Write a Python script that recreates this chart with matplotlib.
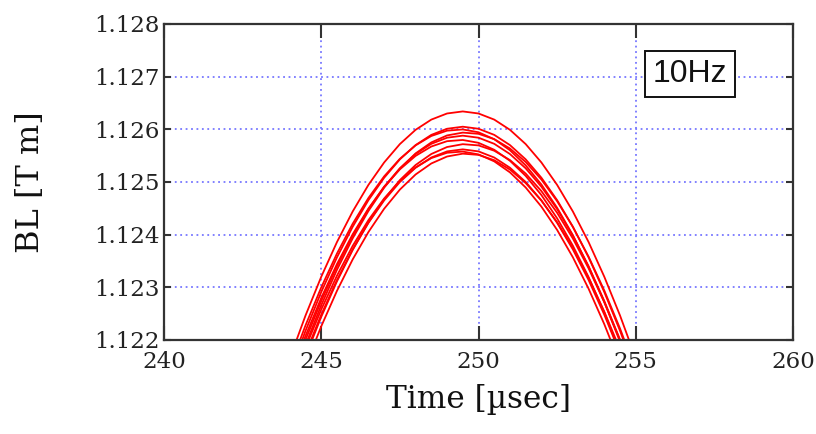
import matplotlib
matplotlib.use("Agg")
import matplotlib.pyplot as plt

time_us = [244.0, 244.5, 245.0, 245.5, 246.0, 246.5, 247.0, 247.5, 248.0, 248.5,
           249.0, 249.5, 250.0, 250.5, 251.0, 251.5, 252.0, 252.5, 253.0, 253.5,
           254.0, 254.5, 255.0]

bl_1 = [1.121651, 1.122465, 1.123201, 1.123860, 1.124441, 1.124945, 1.125371, 1.125720,
        1.125991, 1.126185, 1.126301, 1.126340, 1.126301, 1.126185, 1.125991, 1.125720,
        1.125371, 1.124945, 1.124441, 1.123860, 1.123201, 1.122465, 1.121651]
bl_2 = [1.121361, 1.122175, 1.122911, 1.123570, 1.124151, 1.124655, 1.125081, 1.125430,
        1.125701, 1.125895, 1.126011, 1.126050, 1.126011, 1.125895, 1.125701, 1.125430,
        1.125081, 1.124655, 1.124151, 1.123570, 1.122911, 1.122175, 1.121361]
bl_3 = [1.121480, 1.122278, 1.122999, 1.123642, 1.124208, 1.124696, 1.125107, 1.125440,
        1.125696, 1.125874, 1.125975, 1.125998, 1.125944, 1.125812, 1.125603, 1.125316,
        1.124952, 1.124510, 1.123991, 1.123394, 1.122720, 1.121968, 1.121139]
bl_4 = [1.121079, 1.121908, 1.122660, 1.123334, 1.123931, 1.124450, 1.124892, 1.125256,
        1.125543, 1.125752, 1.125884, 1.125938, 1.125915, 1.125814, 1.125636, 1.125380,
        1.125047, 1.124636, 1.124148, 1.123582, 1.122939, 1.122218, 1.121420]
bl_5 = [1.121191, 1.122005, 1.122741, 1.123400, 1.123981, 1.124485, 1.124911, 1.125260,
        1.125531, 1.125725, 1.125841, 1.125880, 1.125841, 1.125725, 1.125531, 1.125260,
        1.124911, 1.124485, 1.123981, 1.123400, 1.122741, 1.122005, 1.121191]
bl_6 = [1.121280, 1.122078, 1.122799, 1.123442, 1.124008, 1.124496, 1.124907, 1.125240,
        1.125496, 1.125674, 1.125775, 1.125798, 1.125744, 1.125612, 1.125403, 1.125116,
        1.124752, 1.124310, 1.123791, 1.123194, 1.122520, 1.121768, 1.120939]
bl_7 = [1.120859, 1.121688, 1.122440, 1.123114, 1.123711, 1.124230, 1.124672, 1.125036,
        1.125323, 1.125532, 1.125664, 1.125718, 1.125695, 1.125594, 1.125416, 1.125160,
        1.124827, 1.124416, 1.123928, 1.123362, 1.122719, 1.121998, 1.121200]
bl_8 = [1.120931, 1.121745, 1.122481, 1.123140, 1.123721, 1.124225, 1.124651, 1.125000,
        1.125271, 1.125465, 1.125581, 1.125620, 1.125581, 1.125465, 1.125271, 1.125000,
        1.124651, 1.124225, 1.123721, 1.123140, 1.122481, 1.121745, 1.120931]
bl_9 = [1.121060, 1.121858, 1.122579, 1.123222, 1.123788, 1.124276, 1.124687, 1.125020,
        1.125276, 1.125454, 1.125555, 1.125578, 1.125524, 1.125392, 1.125183, 1.124896,
        1.124532, 1.124090, 1.123571, 1.122974, 1.122300, 1.121548, 1.120719]
bl_10 = [1.120679, 1.121508, 1.122260, 1.122934, 1.123531, 1.124050, 1.124492, 1.124856,
         1.125143, 1.125352, 1.125484, 1.125538, 1.125515, 1.125414, 1.125236, 1.124980,
         1.124647, 1.124236, 1.123748, 1.123182, 1.122539, 1.121818, 1.121020]

series = [bl_1, bl_2, bl_3, bl_4, bl_5, bl_6, bl_7, bl_8, bl_9, bl_10]

x_ticks = [240, 245, 250, 255, 260]
y_ticks = [1.122, 1.123, 1.124, 1.125, 1.126, 1.127, 1.128]
y_tick_labels = ["1.122", "1.123", "1.124", "1.125", "1.126", "1.127", "1.128"]
label_text = "10Hz"

fig = plt.figure(figsize=(8.16, 4.34), dpi=100)
ax = fig.add_axes([164 / 816, 1 - 340 / 434, (793 - 164) / 816, (340 - 24) / 434])

for s in series:
    ax.plot(time_us, s, color="#ff0000", linewidth=1.3, solid_joinstyle="round")

ax.set_xlim(240, 260)
ax.set_ylim(1.122, 1.128)
ax.set_xticks(x_ticks)
ax.set_xticklabels([str(t) for t in x_ticks])
ax.set_yticks(y_ticks)
ax.set_yticklabels(y_tick_labels)

ax.grid(True, color="#7777ff", linestyle=(0, (1, 2)), linewidth=1.3)
ax.set_axisbelow(True)

for sp in ax.spines.values():
    sp.set_color("#333333")
    sp.set_linewidth(1.6)

ax.tick_params(axis="both", direction="in", top=True, right=True,
               color="#333333", width=1.5, labelsize=16.5, labelcolor="#222222")
ax.tick_params(axis="y", length=5, pad=3)
ax.tick_params(axis="x", length=10, pad=8)
for lab in ax.get_xticklabels() + ax.get_yticklabels():
    lab.set_family("DejaVu Serif")

ax.set_xlabel("Time [µsec]", family="DejaVu Serif", fontsize=22.5, labelpad=8, color="#111111")
ax.set_ylabel("BL [T m]", family="DejaVu Serif", fontsize=23, labelpad=35, color="#111111")

ax.text(0.836, 0.843, label_text, transform=ax.transAxes, fontsize=23,
        family="Liberation Sans", ha="center", va="center", color="#111111",
        bbox=dict(boxstyle="square,pad=0.25", facecolor="white", edgecolor="#111111",
                  linewidth=1.4), zorder=5)

fig.savefig("out.png", dpi=100)
